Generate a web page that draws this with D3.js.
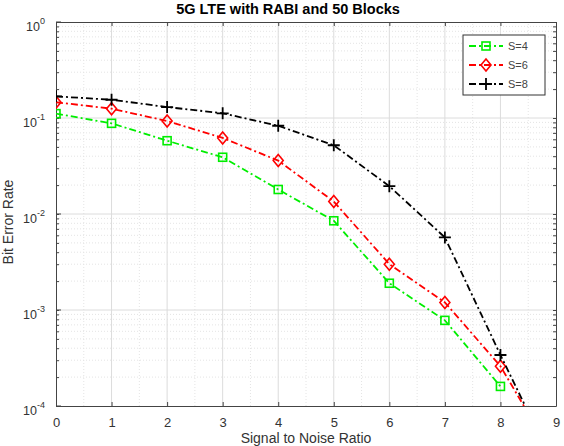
<!DOCTYPE html>
<html>
<head>
<meta charset="utf-8">
<script src="https://cdn.jsdelivr.net/npm/d3@7"></script>
<style>
  body { margin: 0; background: #fff; }
  svg { font-family: "Liberation Sans", Arial, sans-serif; }
</style>
</head>
<body>
<div id="chart"></div>
<script>
const width = 564;
const height = 446;
const margin = {top: 22, right: 8, bottom: 40, left: 56};

// data
const snr = [0, 1, 2, 3, 4, 5, 6, 7, 8, 9];
const berS4 = [0.111, 0.088, 0.058, 0.039, 0.018, 0.0085, 0.0019, 0.00078, 0.00016];
const berS6 = [0.146, 0.125, 0.093, 0.062, 0.036, 0.0135, 0.0030, 0.0012, 0.00026, 0.000027];
const berS8 = [0.168, 0.155, 0.130, 0.112, 0.083, 0.052, 0.0195, 0.0057, 0.00034, 0.000022];
const seriesNames = ["S=4", "S=6", "S=8"];
const seriesColors = ["#00ee00", "#ff0000", "#000000"];
const seriesMarkers = ["square", "diamond", "plus"];
const xTicks = [0, 1, 2, 3, 4, 5, 6, 7, 8, 9];
const yExponents = [0, -1, -2, -3, -4];

const series = [berS4, berS6, berS8].map((vals, k) => ({
  name: seriesNames[k],
  color: seriesColors[k],
  marker: seriesMarkers[k],
  points: vals.map((v, i) => ({x: snr[i], y: v}))
}));

const svg = d3.select("#chart").append("svg")
  .attr("width", width)
  .attr("height", height);

const x = d3.scaleLinear().domain([0, 9]).range([margin.left, width - margin.right]);
const y = d3.scaleLog().domain([1e-4, 1]).range([height - margin.bottom, margin.top]);

// minor grid (dotted)
const minorY = [];
for (let e = -4; e < 0; e++) for (let m = 2; m <= 9; m++) minorY.push(m * Math.pow(10, e));
const minorX = d3.range(0, 9, 0.5).filter(v => v % 1 !== 0);

svg.append("g").selectAll("line").data(minorY).join("line")
  .attr("x1", x(0)).attr("x2", x(9))
  .attr("y1", d => y(d)).attr("y2", d => y(d))
  .attr("stroke", "#e4e4e4").attr("stroke-dasharray", "1,2");

svg.append("g").selectAll("line").data(minorX).join("line")
  .attr("y1", y(1e-4)).attr("y2", y(1))
  .attr("x1", d => x(d)).attr("x2", d => x(d))
  .attr("stroke", "#e4e4e4").attr("stroke-dasharray", "1,2");

// major grid
svg.append("g").selectAll("line").data(yExponents.slice(1, 4)).join("line")
  .attr("x1", x(0)).attr("x2", x(9))
  .attr("y1", d => y(Math.pow(10, d))).attr("y2", d => y(Math.pow(10, d)))
  .attr("stroke", "#dcdcdc");

svg.append("g").selectAll("line").data(xTicks.slice(1, 9)).join("line")
  .attr("y1", y(1e-4)).attr("y2", y(1))
  .attr("x1", d => x(d)).attr("x2", d => x(d))
  .attr("stroke", "#dcdcdc");

// axes (matlab box style, ticks inside)
const xAxis = d3.axisBottom(x).tickValues(xTicks).tickSizeInner(-4).tickSizeOuter(0).tickPadding(12);
const gx = svg.append("g")
  .attr("transform", `translate(0,${y(1e-4)})`)
  .call(xAxis);
gx.select(".domain").attr("stroke", "#444");
gx.selectAll(".tick line").attr("stroke", "#444");
gx.selectAll("text").attr("font-size", 13).attr("fill", "#333");

svg.append("g")
  .attr("transform", `translate(0,${y(1)})`)
  .call(d3.axisTop(x).tickValues(xTicks).tickSizeInner(-4).tickSizeOuter(0).tickFormat(""))
  .call(g => g.selectAll("line, path").attr("stroke", "#444"));

const yTickVals = minorY.concat(yExponents.map(e => Math.pow(10, e)));
svg.append("g").attr("transform", `translate(${x(0)},0)`)
  .call(d3.axisLeft(y).tickValues(yTickVals).tickSizeInner(-3).tickSizeOuter(0).tickFormat(""))
  .call(g => g.selectAll("line, path").attr("stroke", "#444"));
svg.append("g").attr("transform", `translate(${x(9)},0)`)
  .call(d3.axisRight(y).tickValues(yTickVals).tickSizeInner(-3).tickSizeOuter(0).tickFormat(""))
  .call(g => g.selectAll("line, path").attr("stroke", "#444"));

// longer major ticks on y
svg.append("g").selectAll("line").data(yExponents).join("line")
  .attr("x1", x(0)).attr("x2", x(0) + 5)
  .attr("y1", d => y(Math.pow(10, d))).attr("y2", d => y(Math.pow(10, d)))
  .attr("stroke", "#444");

// y tick labels 10^e
const yLabels = svg.append("g").selectAll("text").data(yExponents).join("text")
  .attr("x", x(0) - 11)
  .attr("y", d => y(Math.pow(10, d)) + 9)
  .attr("text-anchor", "end")
  .attr("font-size", 12.5)
  .attr("fill", "#333");
yLabels.append("tspan").text("10");
yLabels.append("tspan").attr("dy", -7).attr("font-size", 9).text(d => d);

// clip for data
svg.append("clipPath").attr("id", "plotclip").append("rect")
  .attr("x", x(0)).attr("y", y(1))
  .attr("width", x(9) - x(0)).attr("height", y(1e-4) - y(1));

const line = d3.line().x(d => x(d.x)).y(d => y(d.y));

const plot = svg.append("g").attr("clip-path", "url(#plotclip)");

function drawMarker(g, type, color, cx, cy) {
  if (type === "square") {
    g.append("rect").attr("x", cx - 4).attr("y", cy - 4).attr("width", 8).attr("height", 8)
      .attr("fill", "none").attr("stroke", color).attr("stroke-width", 1.6);
  } else if (type === "diamond") {
    g.append("path").attr("d", `M${cx},${cy - 6}L${cx + 5},${cy}L${cx},${cy + 6}L${cx - 5},${cy}Z`)
      .attr("fill", "none").attr("stroke", color).attr("stroke-width", 1.6);
  } else {
    g.append("path").attr("d", `M${cx - 6},${cy}H${cx + 6}M${cx},${cy - 6}V${cy + 6}`)
      .attr("fill", "none").attr("stroke", color).attr("stroke-width", 1.8);
  }
}

series.forEach(s => {
  plot.append("path")
    .datum(s.points)
    .attr("d", line)
    .attr("fill", "none")
    .attr("stroke", s.color)
    .attr("stroke-width", 1.8)
    .attr("stroke-dasharray", "7,3,2,3");
  const mg = plot.append("g");
  s.points.filter(p => p.y >= 1e-4).forEach(p => drawMarker(mg, s.marker, s.color, x(p.x), y(p.y)));
});

// legend
const lg = svg.append("g").attr("transform", "translate(463,35)");
lg.append("rect").attr("width", 82).attr("height", 60)
  .attr("fill", "#fff").attr("stroke", "#333").attr("stroke-width", 1);
series.forEach((s, i) => {
  const ly = 11 + i * 19;
  lg.append("line").attr("x1", 6).attr("x2", 40).attr("y1", ly).attr("y2", ly)
    .attr("stroke", s.color).attr("stroke-width", 1.8).attr("stroke-dasharray", "7,3,2,3");
  drawMarker(lg, s.marker, s.color, 23, ly);
  lg.append("text").attr("x", 45).attr("y", ly + 4).attr("font-size", 11).attr("fill", "#444").text(s.name);
});

// title and axis labels
svg.append("text")
  .attr("x", 288).attr("y", 14)
  .attr("text-anchor", "middle").attr("font-size", 14.5).attr("font-weight", "bold")
  .text("5G LTE with RABI and 50 Blocks");

svg.append("text")
  .attr("x", (x(0) + x(9)) / 2).attr("y", 443)
  .attr("text-anchor", "middle").attr("font-size", 14).attr("fill", "#333")
  .text("Signal to Noise Ratio");

svg.append("text")
  .attr("transform", `translate(13,222) rotate(-90)`)
  .attr("text-anchor", "middle").attr("font-size", 14).attr("fill", "#333")
  .text("Bit Error Rate");
</script>
</body>
</html>
